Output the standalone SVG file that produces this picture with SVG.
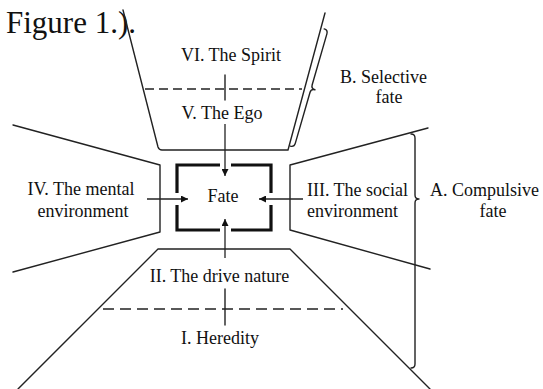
<svg xmlns="http://www.w3.org/2000/svg" width="543" height="389" viewBox="0 0 543 389">
<style>
.ln{fill:none;stroke:#222;stroke-width:1.4;stroke-linecap:round;stroke-linejoin:round}
.ds{fill:none;stroke:#222;stroke-width:1.4}
.bx{fill:none;stroke:#111;stroke-width:3.2;stroke-linejoin:miter}
.ar{fill:none;stroke:#222;stroke-width:1.3}
.t{font-family:"Liberation Serif","Times New Roman",serif;font-size:18px;fill:#111;text-anchor:middle}
</style>
<defs>
<marker id="ah" viewBox="0 0 10 10" refX="10" refY="5" markerWidth="7" markerHeight="7" markerUnits="userSpaceOnUse" orient="auto">
<path d="M0,0 L10,5 L0,10 Z" fill="#111"/>
</marker>
</defs>
<rect width="543" height="389" fill="#fff"/>
<text x="6" y="33" style="font-family:'Liberation Serif','Times New Roman',serif;font-size:31px;fill:#111">Figure 1.).</text>

<g id="top-funnel">
<path class="ln" d="M123,10 L158,147 Q159,150 162,150 L288,150 L325,13"/>
<path class="ds" d="M145,89 L302,89" stroke-dasharray="9 5"/>
<path class="ln" d="M225,75 L225,100"/>
</g>
<g id="brace-b">
<path class="ln" transform="translate(328,30) rotate(16.1)" d="M-4,0 Q0,0 0,4 L0,57 Q0,61 4,61 Q0,61 0,65 L0,118 Q0,122 -4,122"/>
</g>
<g id="left-trap">
<path class="ln" d="M13,125 L160,165 L160,232 L13,272"/>
</g>
<g id="right-trap">
<path class="ln" d="M428,128 L290,165 L290,230 L430,269"/>
</g>
<g id="brace-a">
<path class="ln" d="M411,134 Q415,134 415,138 L415,195 Q415,199 419,199 Q415,199 415,203 L415,364 Q415,368 411,368"/>
</g>
<g id="bottom-funnel">
<path class="ln" d="M18,389 L158,249 L290,249 L430,389"/>
<path class="ds" d="M103,309 L343,309" stroke-dasharray="11 6"/>
<path class="ln" d="M225,289 L225,325"/>
</g>
<g id="fate">
<path class="bx" d="M177,193 L177,165 L220,165 M231,165 L271,165 L271,193 M177,205 L177,230 L220,230 M231,230 L271,230 L271,205"/>
<text class="t" x="223" y="202">Fate</text>
</g>
<g id="connectors">
<path class="ar" d="M225,124 L225,176" marker-end="url(#ah)"/>
<path class="ar" d="M225,258 L225,219" marker-end="url(#ah)"/>
<path class="ar" d="M147,199 L188,199" marker-end="url(#ah)"/>
<path class="ar" d="M303,199 L259,199" marker-end="url(#ah)"/>
</g>
<g id="labels">
<text class="t" x="231" y="61">VI. The Spirit</text>
<text class="t" x="222" y="119">V. The Ego</text>
<text class="t" x="383.5" y="83">B. Selective</text>
<text class="t" x="389" y="103">fate</text>
<text class="t" x="81" y="195">IV. The mental</text>
<text class="t" x="83" y="217">environment</text>
<text class="t" x="357.5" y="196">III. The social</text>
<text class="t" x="352.5" y="217">environment</text>
<text class="t" x="484.5" y="196">A. Compulsive</text>
<text class="t" x="493" y="217">fate</text>
<text class="t" x="219.5" y="282">II. The drive nature</text>
<text class="t" x="220" y="344">I. Heredity</text>
</g>
</svg>
